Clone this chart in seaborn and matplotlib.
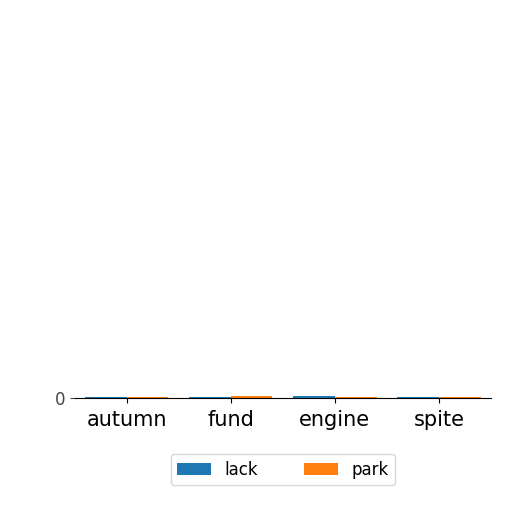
import pandas as pd
import matplotlib
matplotlib.use("Agg")
import matplotlib.pyplot as plt
import seaborn as sns

# --- DATA ---
categories = ["autumn", "fund", "engine", "spite"]
series_names = ["lack", "park"]
lack_values = [0.2, 0.2, 0.6, 0.2]
park_values = [0.1, 0.4, 0.2, 0.1]
y_ticks = [0]

# long-form table for seaborn
df = pd.DataFrame({
    "category": categories * 2,
    "series": [series_names[0]] * len(categories) + [series_names[1]] * len(categories),
    "value": lack_values + park_values,
})

fig = plt.figure(figsize=(5.12, 5.12), dpi=100)
ax = fig.add_axes([0.146, 0.223, 0.813, 0.75])

sns.barplot(
    data=df, x="category", y="value", hue="series",
    palette=["#1f77b4", "#ff7f0e"], ax=ax, saturation=1,
)

ax.set_ylim(0, 100)
ax.set_yticks(y_ticks)
ax.set_xlabel("")
ax.set_ylabel("")
ax.tick_params(axis="x", labelsize=15, pad=5)
ax.tick_params(axis="y", labelsize=12, colors="#444444")
for side in ["top", "right", "left"]:
    ax.spines[side].set_visible(False)

ax.legend(
    loc="upper center", bbox_to_anchor=(0.5, -0.125), ncol=2,
    fontsize=12, frameon=True, columnspacing=2.8,
)

fig.savefig("out.png", dpi=100)
